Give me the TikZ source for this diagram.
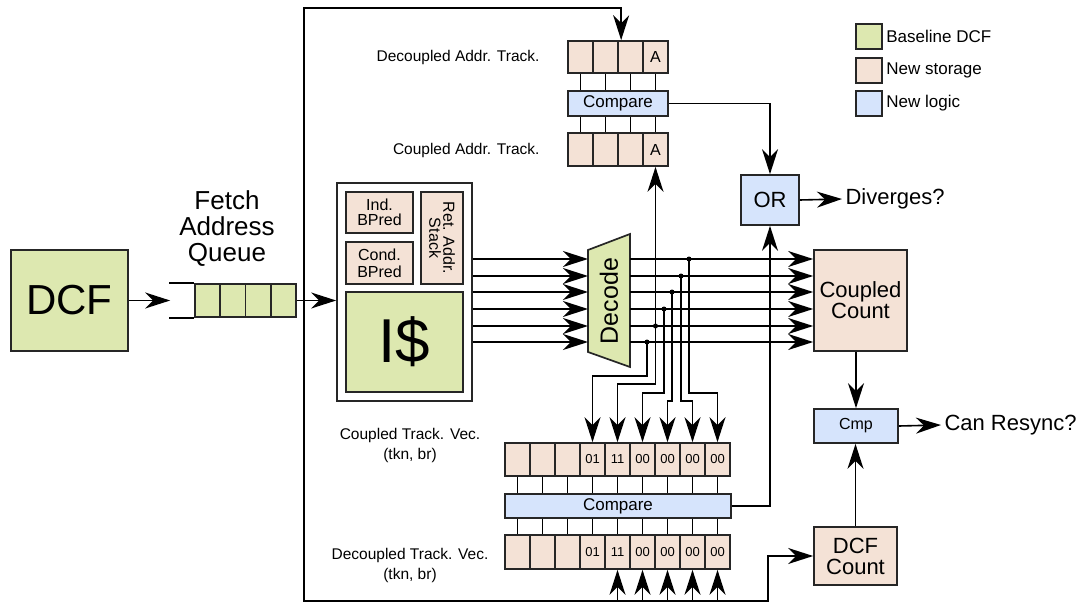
\documentclass[tikz,border=0pt]{standalone}
\usepackage{fontspec}
\setmainfont{Liberation Sans}
\usetikzlibrary{arrows.meta}
\definecolor{basegreen}{HTML}{DDE8B0}
\definecolor{newstore}{HTML}{F4E2D6}
\definecolor{newlogic}{HTML}{D6E4FC}
\newcommand{\fsz}[2]{\fontsize{#1}{#2}\selectfont}

\begin{document}
\begin{tikzpicture}[
  x=1pt,y=-1pt,
  wire/.style={draw=black,line width=1.6pt},
  arr/.style={-{Stealth[length=25pt 0 0,width=16pt 0,inset=8pt 0]}},
  blk/.style={draw=black!85,line width=1.7pt,inner sep=0pt,align=center},
  cell/.style={blk,fill=newstore,minimum width=25pt,minimum height=33pt},
  lbl/.style={font=\fsz{15.5}{20},align=center},
  big/.style={font=\fsz{22}{21}},
  dot/.style={circle,fill=black,inner sep=0pt,minimum size=5pt}]
  \useasboundingbox (0,0) rectangle (1082,607);

  % legend
  \foreach \i/\c/\t/\y in {1/basegreen/Baseline DCF/36.5,
                          2/newstore/New storage/70.5,
                          3/newlogic/New logic/103.5} {
    \node[blk,fill=\c,minimum width=26pt,minimum height=25pt] (lg\i) at (869,\y) {};
    \node[font=\fsz{17}{17},anchor=west] (lgt\i) at (lg\i.east) {\t};
  }

  % DCF and fetch address queue
  \node[blk,fill=basegreen,minimum width=117pt,minimum height=101pt,
        font=\fsz{42}{42}] (dcf) at (69.5,300.5) {DCF};
  \foreach \i in {1,...,4}
    \node[cell,fill=basegreen,minimum width=25.25pt] (q\i) at (182.4+25.25*\i,300.5) {};
  \draw[wire] (q1.north west) -- ++(-25,0);
  \draw[wire] (q1.south west) -- ++(-25,0);
  \coordinate (qin) at ([xshift=-24pt]q1.west);
  \node[font=\fsz{26}{26},align=center] (fq) at (227,229) {Fetch\\Address\\Queue};
  \draw[wire,arr] (dcf.east) -- (qin);

  % fetch block
  \node[blk,fill=white,minimum width=135pt,minimum height=218pt] (ibox) at (404.5,292) {};
  \node[blk,fill=newstore,minimum width=67pt,minimum height=41pt,
        font=\fsz{16}{15}] (ind) at (379.5,212.5) {Ind.\\BPred};
  \node[blk,fill=newstore,minimum width=67pt,minimum height=42pt,
        font=\fsz{16}{17}] (cond) at (379.5,263) {Cond.\\BPred};
  \node[blk,fill=newstore,minimum width=92pt,minimum height=42pt,rotate=-90,
        font=\fsz{16}{14}] (ras) at (442,238) {Ret. Addr.\\Stack};
  \node[blk,fill=basegreen,minimum width=117pt,minimum height=100pt,
        font=\fsz{62}{62}] (icache) at (404.5,342) {I\$};
  \draw[wire,arr] (q4.east) -- (q4.east -| ibox.west);

  % decode
  \draw[draw=black!85,line width=1.7pt,fill=basegreen]
    (588,250) -- (630,234) -- (630,367) -- (588,352) -- cycle;
  \node[rotate=90,font=\fsz{25}{25}] (dec) at (609,301) {Decode};
  \coordinate (decL) at (588,300);
  \coordinate (decR) at (630,300);

  % coupled count, OR, Cmp, DCF count
  \node[blk,fill=newstore,minimum width=93pt,minimum height=101pt,big] (ccount)
    at (860.5,300.5) {Coupled\\Count};
  \node[blk,fill=newlogic,minimum width=58pt,minimum height=50pt,big] (orb)
    at (770,200) {OR};
  \node[big,anchor=west] (div) at (842,199) {Diverges?};
  \node[blk,fill=newlogic,minimum width=84pt,minimum height=34pt,
        font=\fsz{16}{16}] (cmpb) at (856,426) {Cmp};
  \node[big,anchor=west] (resync) at (941,425) {Can Resync?};
  \node[blk,fill=newstore,minimum width=83pt,minimum height=58pt,big] (dcfc)
    at (855.5,556) {DCF\\Count};

  % address tracking
  \foreach \i/\t in {1/{},2/{},3/{},4/A} {
    \node[cell,minimum height=32pt,font=\fsz{16}{16}] (datk\i) at (555.5+25*\i,57) {\t};
    \node[cell,font=\fsz{16}{16}] (catk\i) at (555.5+25*\i,149.5) {\t};
  }
  \node[blk,fill=newlogic,minimum width=100pt,minimum height=25pt,
        font=\fsz{17}{17}] (cmpT) at (618,103.5) {Compare};
  \foreach \i in {1,...,4} {
    \draw[wire] (datk\i.south) -- (datk\i.south |- cmpT.north);
    \draw[wire] (catk\i.north) -- (catk\i.north |- cmpT.south);
  }
  \node[lbl,anchor=east] (datkl) at (543,57) {Decoupled Addr. Track.};
  \node[lbl,anchor=east] (catkl) at (543,150) {Coupled Addr. Track.};

  % track vectors
  \foreach \i/\t in {1/{},2/{},3/{},4/01,5/11,6/00,7/00,8/00,9/00} {
    \node[cell,font=\fsz{13}{13}] (ctv\i) at (492.5+25*\i,459.5) {\t};
    \node[cell,minimum height=34pt,font=\fsz{13}{13}] (dtv\i) at (492.5+25*\i,552) {\t};
  }
  \node[blk,fill=newlogic,minimum width=226pt,minimum height=24pt,
        font=\fsz{17}{17}] (cmpL) at (618,506) {Compare};
  \foreach \i in {1,...,9} {
    \draw[wire] (ctv\i.south) -- (ctv\i.south |- cmpL.north);
    \draw[wire] (dtv\i.north) -- (dtv\i.north |- cmpL.south);
  }
  \node[lbl] (ctvl) at (410,445) {Coupled Track. Vec.\\(tkn, br)};
  \node[lbl] (dtvl) at (410,565) {Decoupled Track. Vec.\\(tkn, br)};

  % fetch lines into decode, decode into coupled count
  \foreach \y in {259,276,292,309,326,342} {
    \draw[wire,arr] (ibox.east |- 0,\y) -- (decL |- 0,\y);
    \draw[wire,arr] (decR |- 0,\y) -- (ccount.west |- 0,\y);
  }

  % taps to the coupled track vector
  \foreach \xd/\yd/\yb/\c in {647/342/376/4, 655.5/326/384/5, 664/309/393/6,
                              672/292/401/7, 681/276/401/8, 689/259/393/9} {
    \node[dot] (tap\c) at (\xd,\yd) {};
    \draw[wire,arr] (tap\c.center) -- (\xd,\yb) -| (ctv\c.north);
  }
  \draw[wire,arr] (tap5.center) -- (tap5 |- catk4.south);

  % compares into OR
  \draw[wire,arr] (cmpT.east) -| (orb.north);
  \draw[wire,arr] (cmpL.east) -| (orb.south);
  \draw[wire,arr] (orb.east) -- (div.west);

  % counts into Cmp
  \draw[wire,arr] (cmpb.north |- ccount.south) -- (cmpb.north);
  \draw[wire,arr] (dcfc.north) -- (dcfc.north |- cmpb.south);
  \draw[wire,arr] (cmpb.east) -- (resync.west);

  % outer loop
  \coordinate (lpTL) at (304,8);
  \coordinate (lpBL) at (304,601);
  \coordinate (lpBR) at (768,601);
  \draw[wire,line width=1.9pt,arr] (lpBR) -- (lpBL) -- (lpTL)
    -| ([xshift=4pt]datk3.north west);
  \draw[wire,line width=1.9pt,arr] (lpBL) -- (lpBR) |- (dcfc.west);
  \foreach \i in {5,...,9}
    \draw[wire,arr] (dtv\i.south |- lpBL) -- (dtv\i.south);
\end{tikzpicture}
\end{document}
